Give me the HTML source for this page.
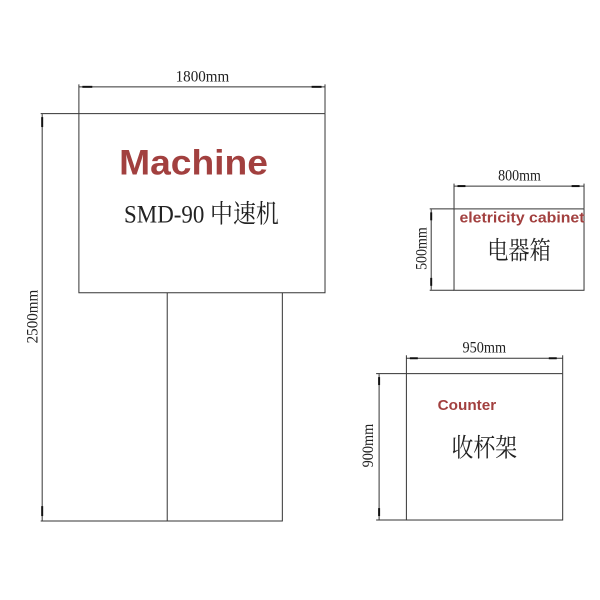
<!DOCTYPE html>
<html><head><meta charset="utf-8"><style>html,body{margin:0;padding:0;background:#fff}svg{display:block}</style></head>
<body>
<svg width="600" height="600" viewBox="0 0 600 600" xmlns="http://www.w3.org/2000/svg">
<g transform="scale(0.9924)">
<g stroke="#333" stroke-width="1" fill="none">
<rect x="79.5" y="114.5" width="248" height="180.5"/>
<polyline points="168.5,295 168.5,525 284.5,525 284.5,295"/>
<line x1="41" y1="114.5" x2="79.5" y2="114.5"/>
<line x1="41" y1="525" x2="168.5" y2="525"/>
<line x1="42.5" y1="115" x2="42.5" y2="525"/>
<line x1="79.5" y1="85" x2="79.5" y2="114"/>
<line x1="327.5" y1="85" x2="327.5" y2="114"/>
<line x1="79.5" y1="87.5" x2="327.5" y2="87.5"/>
<rect x="457.5" y="210.5" width="131" height="82"/>
<line x1="433" y1="210.5" x2="457.5" y2="210.5"/>
<line x1="433" y1="292.5" x2="457.5" y2="292.5"/>
<line x1="434.5" y1="211" x2="434.5" y2="292"/>
<line x1="457.5" y1="185" x2="457.5" y2="210"/>
<line x1="588.5" y1="185" x2="588.5" y2="210"/>
<line x1="457.5" y1="187.5" x2="588.5" y2="187.5"/>
<rect x="409.5" y="376.5" width="157.5" height="147.5"/>
<line x1="379" y1="376.5" x2="409.5" y2="376.5"/>
<line x1="379" y1="524" x2="409.5" y2="524"/>
<line x1="382" y1="377" x2="382" y2="524"/>
<line x1="409.5" y1="358" x2="409.5" y2="376"/>
<line x1="567" y1="358" x2="567" y2="376"/>
<line x1="409.5" y1="361" x2="567" y2="361"/>
</g>
<g fill="#111">
<rect x="83" y="86.5" width="10" height="2"/><rect x="314" y="86.5" width="10" height="2"/>
<rect x="41.5" y="118" width="2" height="10"/><rect x="41.5" y="510" width="2" height="10"/>
<rect x="461" y="186.5" width="8" height="2"/><rect x="576" y="186.5" width="8" height="2"/>
<rect x="433.5" y="214" width="2" height="8"/><rect x="433.5" y="280" width="2" height="8"/>
<rect x="413" y="360" width="8" height="2"/><rect x="553" y="360" width="8" height="2"/>
<rect x="381" y="380" width="2" height="8"/><rect x="381" y="512" width="2" height="8"/>
</g>
<g font-family="Liberation Serif, serif" fill="#222" font-size="16">
<text x="177" y="82" textLength="54" lengthAdjust="spacingAndGlyphs">1800mm</text>
<text x="502" y="182" textLength="43" lengthAdjust="spacingAndGlyphs">800mm</text>
<text x="466" y="355" textLength="44" lengthAdjust="spacingAndGlyphs">950mm</text>
<text transform="translate(38,346) rotate(-90)" textLength="54" lengthAdjust="spacingAndGlyphs">2500mm</text>
<text transform="translate(430,272) rotate(-90)" textLength="43" lengthAdjust="spacingAndGlyphs">500mm</text>
<text transform="translate(376,471) rotate(-90)" textLength="44" lengthAdjust="spacingAndGlyphs">900mm</text>
</g>
<g font-family="Liberation Sans, sans-serif" font-weight="bold" fill="#a2403f">
<text x="120" y="176" font-size="35" textLength="150" lengthAdjust="spacingAndGlyphs">Machine</text>
<text x="463" y="224" font-size="15" textLength="126" lengthAdjust="spacingAndGlyphs">eletricity cabinet</text>
<text x="441" y="413" font-size="15" textLength="59" lengthAdjust="spacingAndGlyphs">Counter</text>
</g>
<g font-family="Liberation Serif, 'Noto Serif CJK SC', 'Noto Sans CJK SC', serif" fill="#222">
<text x="125" y="224" font-size="26" textLength="156" lengthAdjust="spacingAndGlyphs">SMD-90 中速机</text>
<text x="491" y="261" font-size="25" textLength="64" lengthAdjust="spacingAndGlyphs">电器箱</text>
<text x="455" y="460" font-size="26" textLength="66" lengthAdjust="spacingAndGlyphs">收杯架</text>
</g>
</g>
</svg>
</body></html>
